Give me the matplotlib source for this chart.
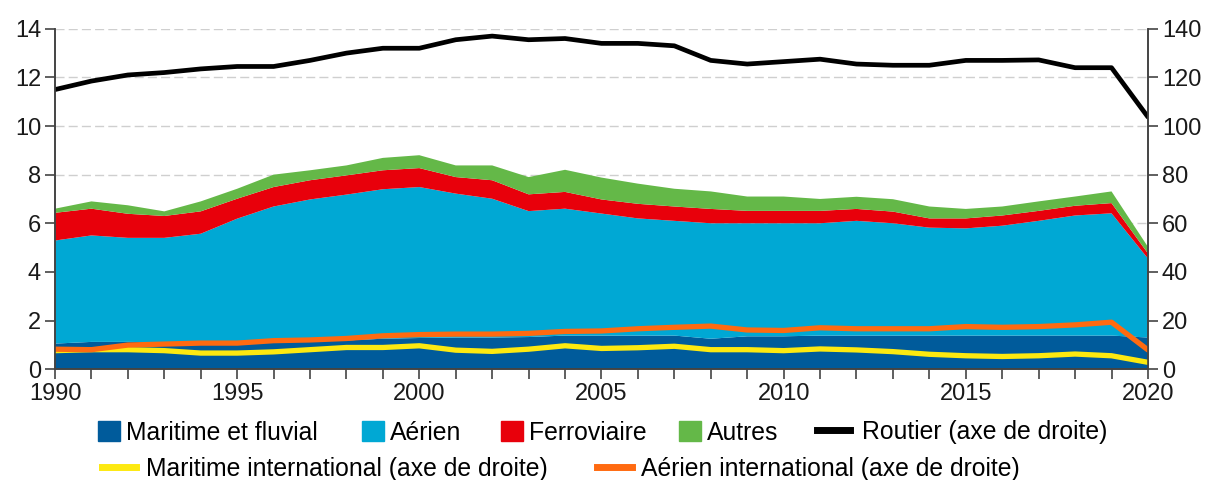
import numpy as np
import matplotlib
matplotlib.use("Agg")
import matplotlib.pyplot as plt
from matplotlib.patches import Patch
from matplotlib.lines import Line2D

plt.rcParams['font.family'] = ['Liberation Sans', 'DejaVu Sans']

years = np.arange(1990, 2021)

# émissions par mode (échelle de gauche)
maritime = [1.05, 1.12, 1.12, 1.10, 1.10, 1.10, 1.12, 1.15, 1.18, 1.25, 1.28,
            1.30, 1.30, 1.32, 1.38, 1.38, 1.38, 1.38, 1.25, 1.35, 1.35,
            1.38, 1.38, 1.38, 1.38, 1.38, 1.38, 1.38, 1.38, 1.38, 1.30]
aerien = [4.24, 4.38, 4.28, 4.30, 4.47, 5.09, 5.57, 5.83, 6.00, 6.15, 6.21,
          5.92, 5.71, 5.18, 5.22, 5.02, 4.82, 4.72, 4.75, 4.65, 4.65,
          4.62, 4.72, 4.62, 4.44, 4.41, 4.52, 4.72, 4.94, 5.03, 3.25]
ferroviaire = [1.14, 1.10, 0.99, 0.90, 0.92, 0.82, 0.80, 0.79, 0.79, 0.78, 0.78,
               0.68, 0.76, 0.69, 0.69, 0.58, 0.60, 0.59, 0.59, 0.51, 0.51,
               0.51, 0.49, 0.48, 0.38, 0.41, 0.42, 0.41, 0.40, 0.42, 0.21]
autres = [0.17, 0.30, 0.35, 0.19, 0.41, 0.41, 0.51, 0.41, 0.41, 0.51, 0.53,
          0.48, 0.61, 0.71, 0.91, 0.90, 0.83, 0.73, 0.72, 0.59, 0.59,
          0.49, 0.50, 0.51, 0.49, 0.39, 0.37, 0.39, 0.38, 0.48, 0.27]

# échelle de droite
routier = [115, 118.5, 121, 122, 123.5, 124.5, 124.5, 127, 130, 132, 132,
           135.5, 137, 135.5, 136, 134, 134, 133, 127, 125.5, 126.5,
           127.5, 125.5, 125, 125, 127, 127, 127.2, 124, 124, 103.7]
maritime_int = [7.6, 8.0, 8.0, 7.6, 6.6, 6.6, 7.1, 8.0, 8.9, 8.9, 9.6,
                7.8, 7.3, 8.2, 9.6, 8.5, 8.8, 9.4, 8.0, 8.0, 7.6,
                8.3, 7.9, 7.2, 6.1, 5.5, 5.2, 5.5, 6.2, 5.5, 2.8]
aerien_int = [8.2, 8.0, 9.9, 10.3, 10.7, 10.7, 11.7, 12.0, 12.6, 13.7, 14.2,
              14.4, 14.4, 14.7, 15.5, 15.7, 16.6, 17.2, 17.7, 16.1, 15.9,
              17.0, 16.6, 16.6, 16.6, 17.5, 17.2, 17.5, 18.2, 19.3, 7.9]

c_mar, c_aer, c_fer, c_aut = '#005b9b', '#00a8d4', '#e8000b', '#64b848'
c_rout, c_mint, c_aint = '#000000', '#fde910', '#ff6a10'

fig = plt.figure(figsize=(12.09, 4.8), dpi=100)
ax = fig.add_axes([0.0455, 0.231, 0.904, 0.709])

ax.stackplot(years, maritime, aerien, ferroviaire, autres,
             colors=[c_mar, c_aer, c_fer, c_aut], linewidth=0)
ax.set_axisbelow(True)
ax.yaxis.grid(True, color='#cfcfcf', linestyle=(0, (6.5, 3)), linewidth=1)
ax.set_xlim(1990, 2020)
ax.set_ylim(0, 14)
ax.set_yticks(range(0, 15, 2))
ax.set_xticks(range(1990, 2021, 5))
ax.set_xticks(range(1990, 2021), minor=True)

ax2 = ax.twinx()
ax2.plot(years, routier, color=c_rout, lw=3.4, solid_capstyle='round')
ax2.plot(years, maritime_int, color=c_mint, lw=3.8, solid_capstyle='round')
ax2.plot(years, aerien_int, color=c_aint, lw=3.8, solid_capstyle='round')
ax2.set_ylim(0, 140)
ax2.set_yticks(range(0, 141, 20))

for a in (ax, ax2):
    a.spines['top'].set_visible(False)
    for s in ('left', 'right', 'bottom'):
        a.spines[s].set_color('#444444')
        a.spines[s].set_linewidth(1.2)
    a.tick_params(axis='both', which='both', direction='out', length=7,
                  width=1.2, color='#444444', labelsize=17, labelcolor='#1a1a1a', pad=3)
ax.tick_params(axis='x', which='minor', labelbottom=False)

# légende : chaque entrée placée à sa position (pixels du bord gauche)
fs = 17.8
W, H = 1209.0, 480.0
entries = [
    (Patch(color=c_mar), 'Maritime et fluvial', 98, 432.5, 0.9, 0.25),
    (Patch(color=c_aer), 'Aérien', 362, 432.5, 0.9, 0.25),
    (Patch(color=c_fer), 'Ferroviaire', 501, 432.5, 0.9, 0.25),
    (Patch(color=c_aut), 'Autres', 679, 432.5, 0.9, 0.25),
    (Line2D([], [], color=c_rout, lw=5), 'Routier (axe de droite)', 816.5, 432.5, 1.34, 0.5),
    (Line2D([], [], color=c_mint, lw=5), 'Maritime international (axe de droite)', 101.5, 469, 1.4, 0.4),
    (Line2D([], [], color=c_aint, lw=5), 'Aérien international (axe de droite)', 596.5, 469, 1.42, 0.4),
]
for h, lab, px, py, hl, tp in entries:
    fig.legend([h], [lab], loc='center left', bbox_to_anchor=(px / W, 1 - py / H),
               frameon=False, fontsize=fs, handlelength=hl, handleheight=0.85,
               handletextpad=tp, borderpad=0, borderaxespad=0)

fig.savefig('out.png', dpi=100)
